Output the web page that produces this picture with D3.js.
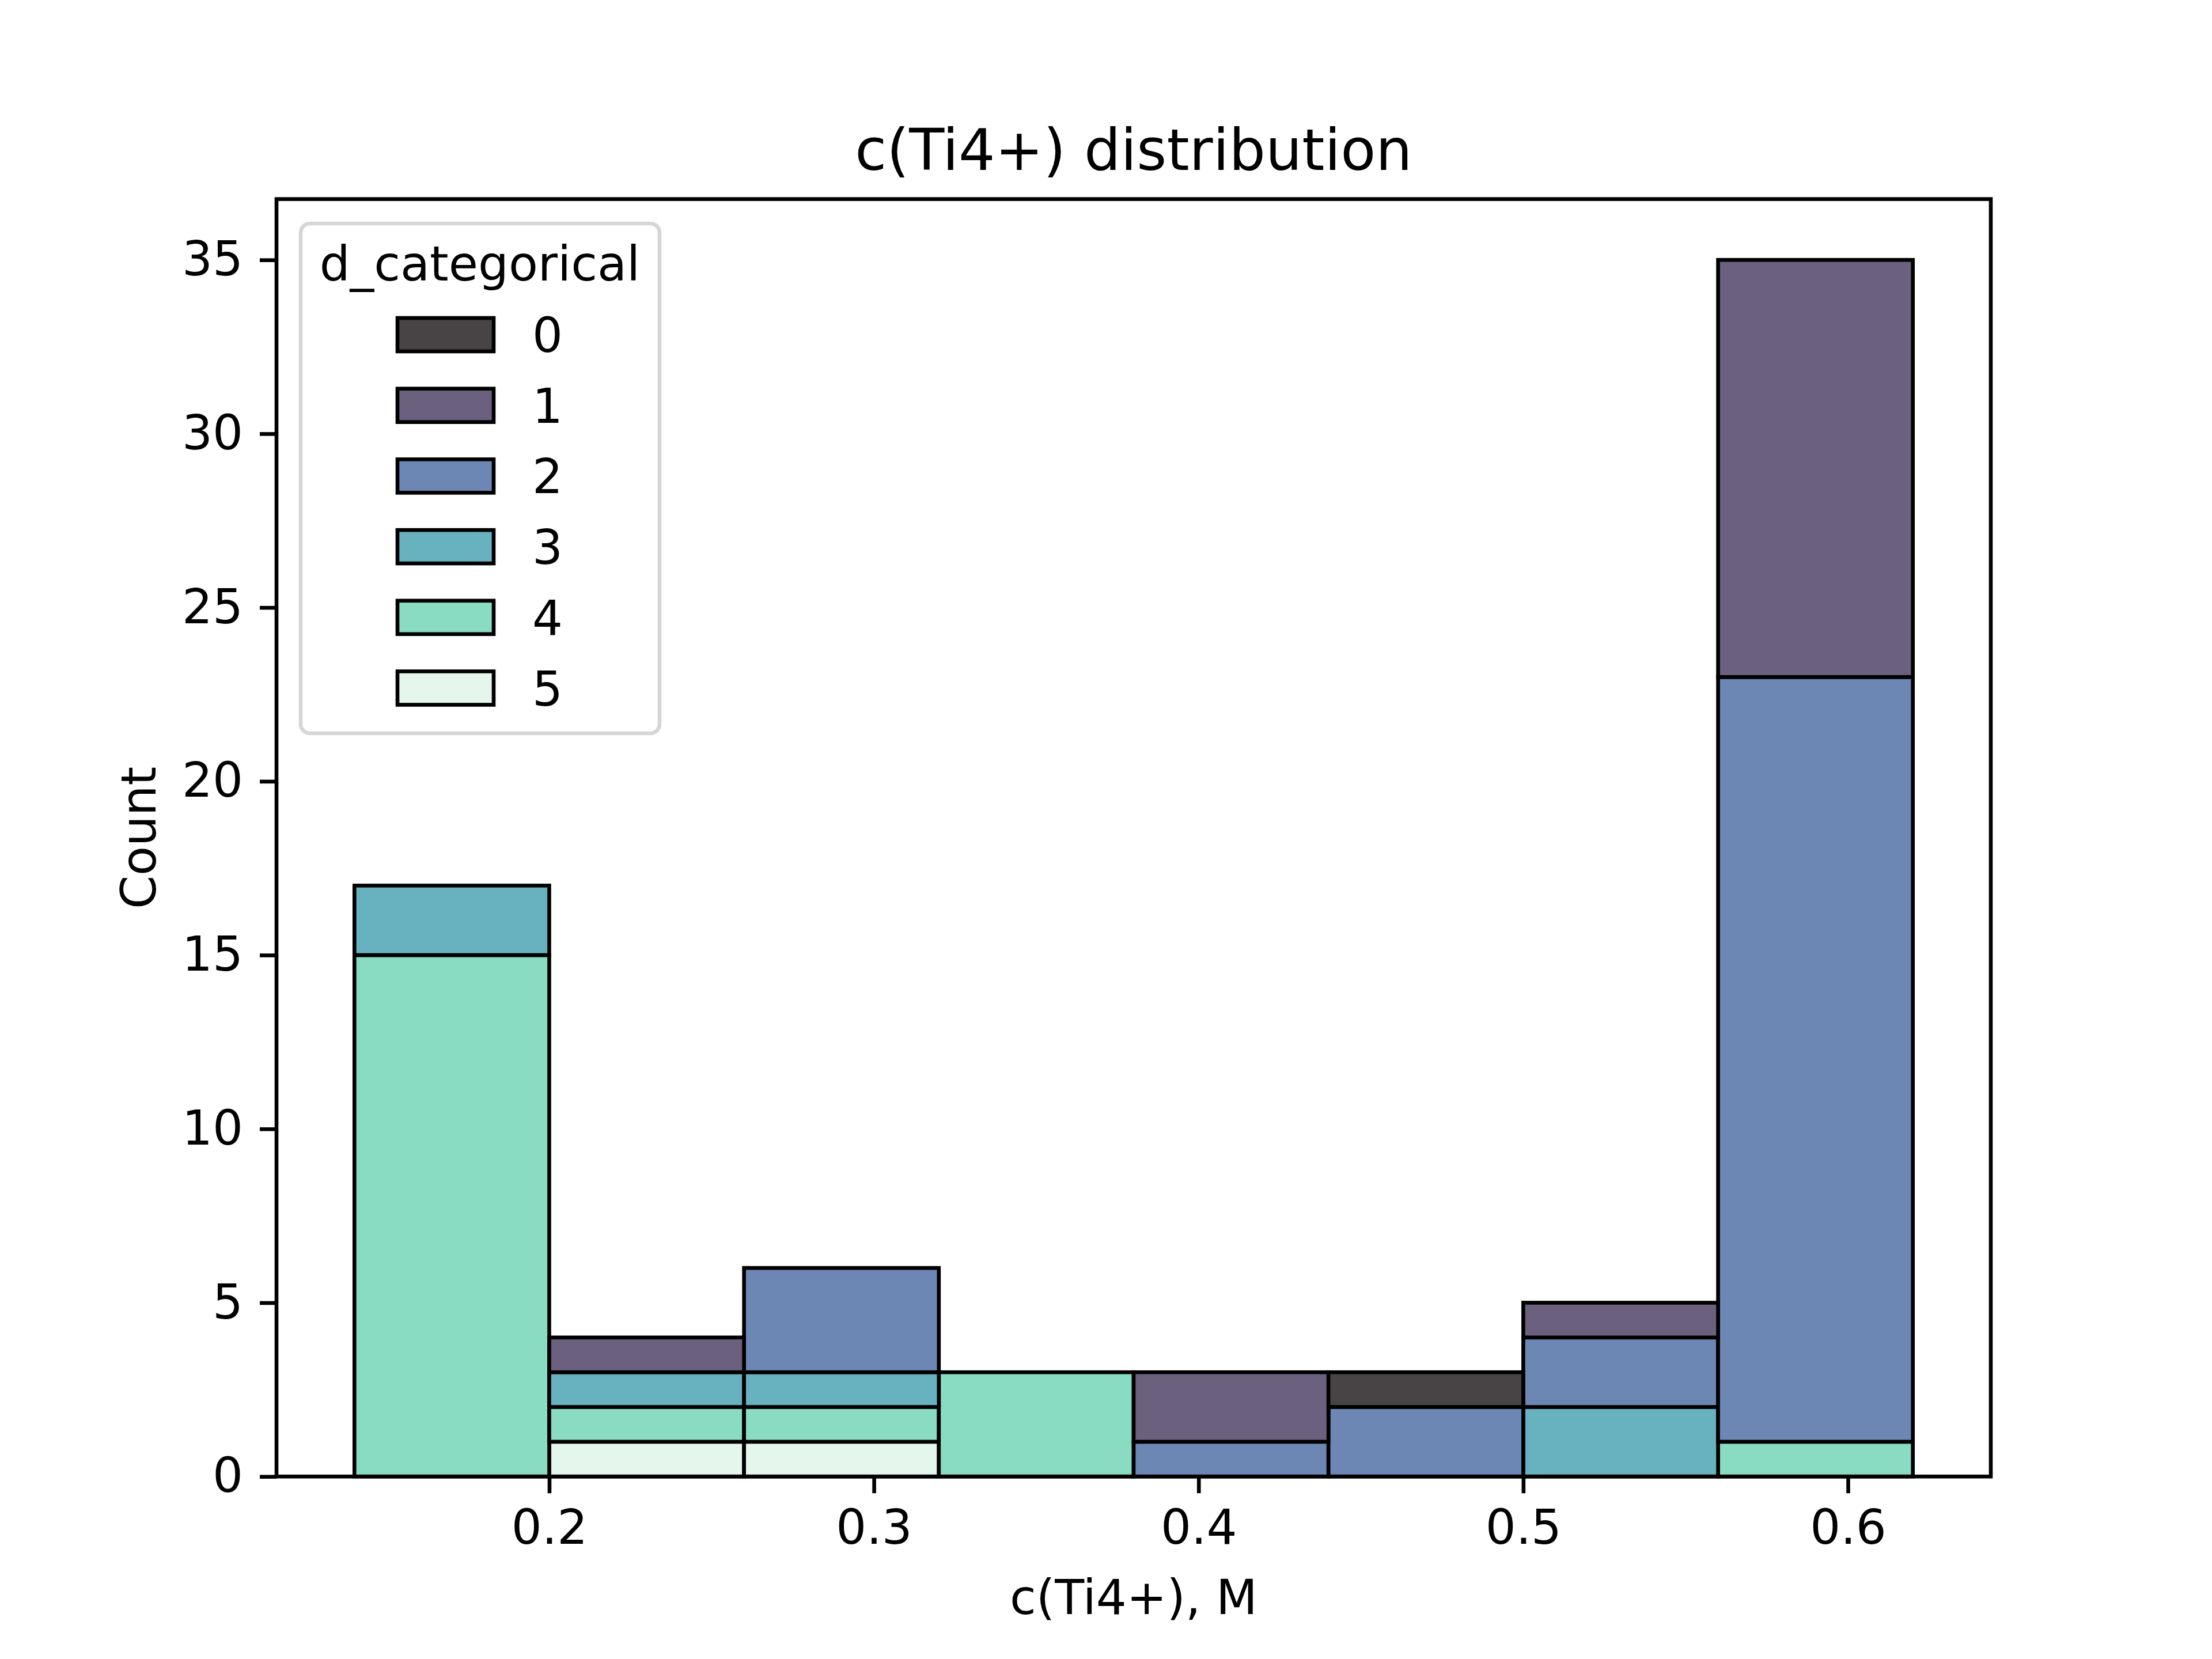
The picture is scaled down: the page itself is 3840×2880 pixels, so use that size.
<!DOCTYPE html>
<html>
<head>
<meta charset="utf-8">
<script src="https://cdn.jsdelivr.net/npm/d3@7"></script>
<style>
  body { margin: 0; background: #fff; }
  text { font-family: "DejaVu Sans", sans-serif; }
</style>
</head>
<body>
<div id="chart"></div>
<script>
// histogram bins for c(Ti4+)
var binEdges = [0.14, 0.20, 0.26, 0.32, 0.38, 0.44, 0.50, 0.56, 0.62];
var categories = ['0', '1', '2', '3', '4', '5'];
// counts per bin for each d_categorical level
var count0 = [0, 0, 0, 0, 0, 1, 0, 0];
var count1 = [0, 1, 0, 0, 2, 0, 1, 12];
var count2 = [0, 0, 3, 0, 1, 2, 2, 22];
var count3 = [2, 1, 1, 0, 0, 0, 2, 0];
var count4 = [15, 1, 1, 3, 0, 0, 0, 1];
var count5 = [0, 1, 1, 0, 0, 0, 0, 0];
var xTicks = [0.2, 0.3, 0.4, 0.5, 0.6];
var yTicks = [0, 5, 10, 15, 20, 25, 30, 35];
var colors = ['#484446', '#6b607e', '#6c87b4', '#68b1bf', '#89dcc2', '#e5f7ec'];

var W = 3840, H = 2880;
var mLeft = 480, mRight = 3456, mTop = 345.6, mBottom = 2563.2;
var fs = 83.3;   // 10pt at 600 dpi
var lw = 6.6;

var counts = [count0, count1, count2, count3, count4, count5];
var rows = binEdges.slice(0, -1).map(function (e, i) {
    var r = { x0: e, x1: binEdges[i + 1] };
    categories.forEach(function (c, k) { r[c] = counts[k][i]; });
    return r;
});

var xMin = binEdges[0], xMax = binEdges[binEdges.length - 1];
var xPad = (xMax - xMin) * 0.05;
var x = d3.scaleLinear().domain([xMin - xPad, xMax + xPad]).range([mLeft, mRight]);
var yMax = d3.max(rows, function (r) { return d3.sum(categories, function (c) { return r[c]; }); });
var y = d3.scaleLinear().domain([0, yMax * 1.05]).range([mBottom, mTop]);

var svg = d3.select('#chart').append('svg')
    .attr('width', W)
    .attr('height', H);

svg.append('rect').attr('width', W).attr('height', H).attr('fill', '#fff');

// stacked: last level at the bottom
var stackKeys = categories.slice().reverse();
var series = d3.stack().keys(stackKeys)(rows);

series.forEach(function (s) {
    var ci = categories.indexOf(s.key);
    svg.append('g')
        .selectAll('rect')
        .data(s.filter(function (d) { return d[1] > d[0]; }))
        .enter()
        .append('rect')
        .attr('x', function (d) { return x(d.data.x0); })
        .attr('width', function (d) { return x(d.data.x1) - x(d.data.x0); })
        .attr('y', function (d) { return y(d[1]); })
        .attr('height', function (d) { return y(d[0]) - y(d[1]); })
        .attr('fill', colors[ci])
        .attr('stroke', '#000')
        .attr('stroke-width', lw);
});

// axes
var xAxis = d3.axisBottom(x).tickValues(xTicks).tickFormat(d3.format('.1f'))
    .tickSize(29).tickPadding(29);
var gx = svg.append('g').attr('transform', 'translate(0,' + mBottom + ')').call(xAxis);
var yAxis = d3.axisLeft(y).tickValues(yTicks).tickFormat(d3.format('d'))
    .tickSize(29).tickPadding(29);
var gy = svg.append('g').attr('transform', 'translate(' + mLeft + ',0)').call(yAxis);

[gx, gy].forEach(function (g) {
    g.select('.domain').remove();
    g.selectAll('line').attr('stroke', '#000').attr('stroke-width', lw);
    g.selectAll('text').attr('font-size', fs).attr('fill', '#000')
        .style('font-family', '"DejaVu Sans", sans-serif');
});

svg.append('rect')
    .attr('x', mLeft).attr('y', mTop)
    .attr('width', mRight - mLeft).attr('height', mBottom - mTop)
    .attr('fill', 'none').attr('stroke', '#000').attr('stroke-width', lw);

// titles
svg.append('text')
    .attr('x', (mLeft + mRight) / 2).attr('y', 295)
    .attr('text-anchor', 'middle')
    .attr('font-size', fs * 1.2)
    .text('c(Ti4+) distribution');

svg.append('text')
    .attr('x', (mLeft + mRight) / 2).attr('y', 2802)
    .attr('text-anchor', 'middle')
    .attr('font-size', fs)
    .text('c(Ti4+), M');

svg.append('text')
    .attr('transform', 'translate(270,' + ((mTop + mBottom) / 2) + ') rotate(-90)')
    .attr('text-anchor', 'middle')
    .attr('font-size', fs)
    .text('Count');

// legend
var lg = svg.append('g');
lg.append('rect')
    .attr('x', 522).attr('y', 388)
    .attr('width', 623).attr('height', 885)
    .attr('rx', 16)
    .attr('fill', '#fff').attr('fill-opacity', 0.8)
    .attr('stroke', '#d6d6d6').attr('stroke-width', lw);

lg.append('text')
    .attr('x', 833).attr('y', 487)
    .attr('text-anchor', 'middle')
    .attr('font-size', fs)
    .text('d_categorical');

var items = lg.selectAll('g.item')
    .data(categories)
    .enter()
    .append('g')
    .attr('class', 'item')
    .attr('transform', function (d, i) { return 'translate(0,' + (581 + i * 122.7) + ')'; });

items.append('rect')
    .attr('x', 690).attr('y', -29)
    .attr('width', 167).attr('height', 58)
    .attr('fill', function (d, i) { return colors[i]; })
    .attr('stroke', '#000').attr('stroke-width', lw);

items.append('text')
    .attr('x', 924).attr('y', 30)
    .attr('font-size', fs)
    .text(function (d) { return d; });
</script>
</body>
</html>
